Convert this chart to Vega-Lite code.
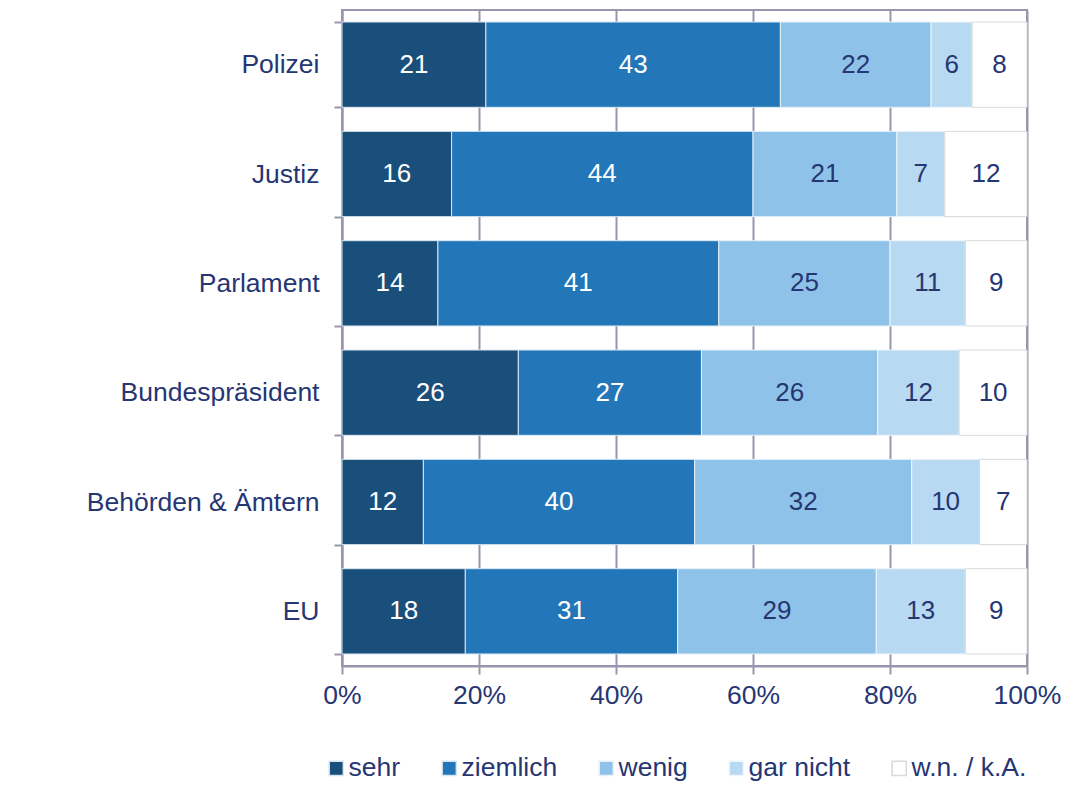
{
  "$schema": "https://vega.github.io/schema/vega-lite/v6.json",
  "width": 685,
  "height": 656,
  "autosize": {"type": "none"},
  "padding": {"left": 342, "top": 10, "right": 48, "bottom": 141},
  "background": "white",
  "config": {
    "font": "Liberation Sans",
    "view": {"stroke": "#9896ad", "strokeWidth": 2},
    "axis": {"labelFont": "Liberation Sans"}
  },
  "data": {
    "values": [
      {"Institution": "Polizei", "Antwort": "sehr", "Wert": 21},
      {"Institution": "Polizei", "Antwort": "ziemlich", "Wert": 43},
      {"Institution": "Polizei", "Antwort": "wenig", "Wert": 22},
      {"Institution": "Polizei", "Antwort": "gar nicht", "Wert": 6},
      {"Institution": "Polizei", "Antwort": "w.n. / k.A.", "Wert": 8},
      {"Institution": "Justiz", "Antwort": "sehr", "Wert": 16},
      {"Institution": "Justiz", "Antwort": "ziemlich", "Wert": 44},
      {"Institution": "Justiz", "Antwort": "wenig", "Wert": 21},
      {"Institution": "Justiz", "Antwort": "gar nicht", "Wert": 7},
      {"Institution": "Justiz", "Antwort": "w.n. / k.A.", "Wert": 12},
      {"Institution": "Parlament", "Antwort": "sehr", "Wert": 14},
      {"Institution": "Parlament", "Antwort": "ziemlich", "Wert": 41},
      {"Institution": "Parlament", "Antwort": "wenig", "Wert": 25},
      {"Institution": "Parlament", "Antwort": "gar nicht", "Wert": 11},
      {"Institution": "Parlament", "Antwort": "w.n. / k.A.", "Wert": 9},
      {"Institution": "Bundespräsident", "Antwort": "sehr", "Wert": 26},
      {"Institution": "Bundespräsident", "Antwort": "ziemlich", "Wert": 27},
      {"Institution": "Bundespräsident", "Antwort": "wenig", "Wert": 26},
      {"Institution": "Bundespräsident", "Antwort": "gar nicht", "Wert": 12},
      {"Institution": "Bundespräsident", "Antwort": "w.n. / k.A.", "Wert": 10},
      {"Institution": "Behörden & Ämtern", "Antwort": "sehr", "Wert": 12},
      {"Institution": "Behörden & Ämtern", "Antwort": "ziemlich", "Wert": 40},
      {"Institution": "Behörden & Ämtern", "Antwort": "wenig", "Wert": 32},
      {"Institution": "Behörden & Ämtern", "Antwort": "gar nicht", "Wert": 10},
      {"Institution": "Behörden & Ämtern", "Antwort": "w.n. / k.A.", "Wert": 7},
      {"Institution": "EU", "Antwort": "sehr", "Wert": 18},
      {"Institution": "EU", "Antwort": "ziemlich", "Wert": 31},
      {"Institution": "EU", "Antwort": "wenig", "Wert": 29},
      {"Institution": "EU", "Antwort": "gar nicht", "Wert": 13},
      {"Institution": "EU", "Antwort": "w.n. / k.A.", "Wert": 9}
    ]
  },
  "transform": [
    {"window": [{"op": "row_number", "as": "rang"}], "groupby": ["Institution"]}
  ],
  "encoding": {
    "y": {
      "field": "Institution",
      "type": "nominal",
      "sort": ["Polizei", "Justiz", "Parlament", "Bundespräsident", "Behörden & Ämtern", "EU"],
      "scale": {"paddingInner": 0.22, "paddingOuter": 0.11},
      "axis": {
        "title": null,
        "labelFontSize": 26.5,
        "labelColor": "#263673",
        "labelPadding": 15,
        "labelLimit": 330,
        "tickBand": "extent",
        "ticks": true,
        "tickSize": 8,
        "tickColor": "#9896ad",
        "tickWidth": 2,
        "domainColor": "#9896ad",
        "domainWidth": 2,
        "grid": false
      }
    },
    "x": {
      "field": "Wert",
      "type": "quantitative",
      "stack": "normalize",
      "scale": {"domain": [0, 1]},
      "axis": {
        "title": null,
        "format": ".0%",
        "values": [0, 0.2, 0.4, 0.6, 0.8, 1],
        "labelFontSize": 26.5,
        "labelColor": "#263673",
        "labelFlush": false,
        "labelPadding": 8,
        "tickSize": 8,
        "tickColor": "#9896ad",
        "tickWidth": 2,
        "domainColor": "#9896ad",
        "domainWidth": 2,
        "grid": true,
        "gridColor": "#9896ad",
        "gridWidth": 2,
        "gridOpacity": 1
      }
    },
    "order": {"field": "rang", "type": "quantitative"},
    "detail": {"field": "Antwort", "type": "nominal"}
  },
  "layer": [
    {
      "mark": {"type": "bar", "strokeWidth": 1},
      "encoding": {
        "color": {
          "field": "Antwort",
          "type": "nominal",
          "scale": {
            "domain": ["sehr", "ziemlich", "wenig", "gar nicht", "w.n. / k.A."],
            "range": ["#1a4e7b", "#2377b8", "#8fc2e8", "#b8d9f2", "#ffffff"]
          },
          "legend": {
            "title": null,
            "orient": "none",
            "legendX": -19,
            "legendY": 745,
            "direction": "horizontal",
            "symbolType": "square",
            "symbolSize": 200,
            "symbolStrokeWidth": 1.5,
            "labelFontSize": 26.5,
            "labelColor": "#263673",
            "labelOffset": -1,
            "columnPadding": 35,
            "labelLimit": 300
          }
        },
        "stroke": {
          "field": "Antwort",
          "type": "nominal",
          "scale": {
            "domain": ["sehr", "ziemlich", "wenig", "gar nicht", "w.n. / k.A."],
            "range": ["#d6e6f3", "#d6e6f3", "#e6f1fa", "#eef6fc", "#d9d9d9"]
          }
        }
      }
    },
    {
      "mark": {"type": "text", "fontSize": 26, "baseline": "middle", "align": "center"},
      "encoding": {
        "x": {"field": "Wert", "type": "quantitative", "stack": "normalize", "bandPosition": 0.5},
        "text": {"field": "Wert", "type": "quantitative"},
        "color": {
          "condition": {"test": "datum.Antwort === 'sehr' || datum.Antwort === 'ziemlich'", "value": "#ffffff"},
          "value": "#263673"
        }
      }
    }
  ]
}
